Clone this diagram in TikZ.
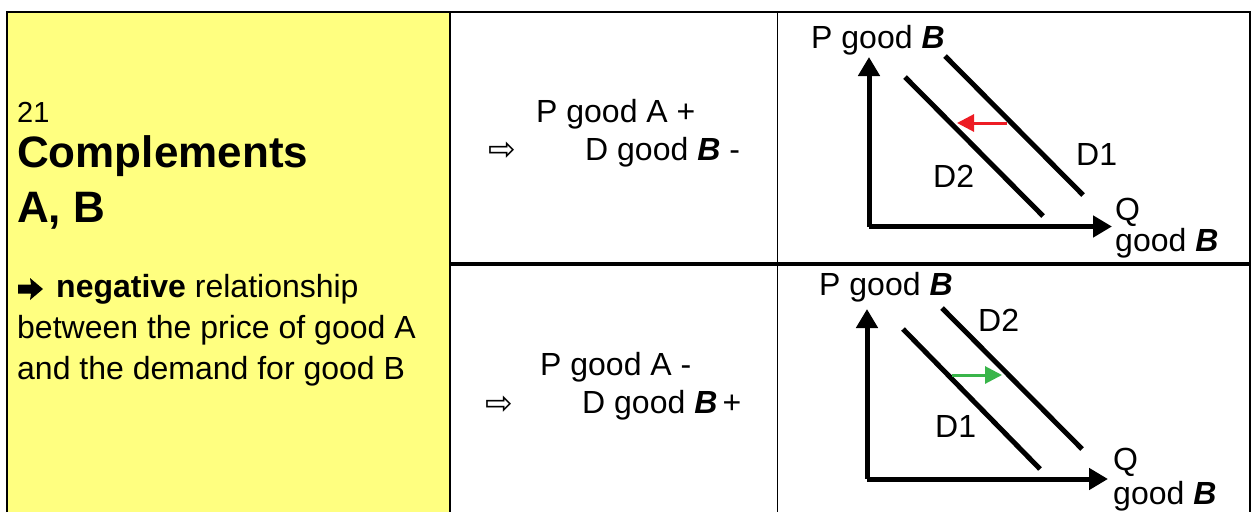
\documentclass[tikz,border=0pt]{standalone}
\usepackage{fontspec}
\setmainfont{Liberation Sans}
\newfontfamily\symfont{DejaVu Sans}
\usetikzlibrary{arrows.meta}
\definecolor{panelyellow}{HTML}{FFFF80}
\definecolor{shiftred}{HTML}{ED1C24}
\definecolor{shiftgreen}{HTML}{39B54A}
\newcommand{\bB}{\textbf{\textit{B}}}
\begin{document}
\begin{tikzpicture}[x=1pt,y=-1pt,
  txt/.style={anchor=base west,inner sep=0pt,font=\fontsize{32}{38}\selectfont},
  smalltxt/.style={anchor=base west,inner sep=0pt,font=\fontsize{29}{34}\selectfont},
  titletxt/.style={anchor=base west,inner sep=0pt,font=\fontsize{44}{50}\selectfont\bfseries},
  symtxt/.style={anchor=base west,inner sep=0pt,font=\fontsize{33}{38}\selectfont\symfont},
  axis/.style={line width=5pt,-{Triangle[length=19pt,width=21pt]}},
  demand/.style={line width=5pt},
  shiftarrow/.style={line width=3pt,-{Triangle[length=17pt,width=17pt]}},
  gridline/.style={line width=2pt}]
\useasboundingbox (0,0) rectangle (1256,512);
% panel
\fill[panelyellow] (8,13) rectangle (449,512);
% grid
\draw[gridline] (7,512) -- (7,12) -- (1250,12) -- (1250,512);
\draw[gridline] (449.5,12) -- (449.5,512);
\draw[line width=1.6pt] (777.5,12) -- (777.5,512);
\draw[line width=4pt] (449,264) -- (1251,264);
% left panel text
\node[smalltxt] (num) at (17,122) {21};
\node[titletxt] (title1) at (17,167) {Complements};
\node[titletxt] (title2) at (17,222) {A, B};
% heavy black arrow glyph
\fill (18,284.5) -- (31,284.5) -- (30,278) -- (43,289) -- (30,300) -- (31,293.5) -- (18,293.5) -- cycle;
\node[txt] (l1) at (56,297) {\textbf{negative} relationship};
\node[txt] (l2) at (17,338) {between the price of good A};
\node[txt] (l3) at (17,379) {and the demand for good B};
% middle top
\node[txt] (pa1) at (536,122) {P good A +};
\node[symtxt] (ar1) at (488,160) {⇨};
\node[txt] (db1) at (585,160) {D good \bB\ -};
% middle bottom
\node[txt] (pa2) at (540,375) {P good A -};
\node[symtxt] (ar2) at (485,414) {⇨};
\node[txt] (db2) at (582,413) {D good \bB\,+};
% graph top
\coordinate (o1) at (869,226.5);
\coordinate (y1) at (869,57);
\coordinate (x1) at (1112,226.5);
\draw[axis] (o1) -- (y1);
\draw[axis] (o1) -- (x1);
\coordinate (d2a) at (905,77);
\coordinate (d2b) at (1043,216);
\coordinate (d1a) at (945,56);
\coordinate (d1b) at (1083,195);
\draw[demand] (d2a) -- (d2b);
\draw[demand] (d1a) -- (d1b);
\coordinate (ra) at (1007,123);
\coordinate (rb) at (957,123);
\draw[shiftarrow,shiftred] (ra) -- (rb);
\node[txt] (pb1) at (811,48) {P good \bB};
\node[txt] (dl1) at (1076,165) {D1};
\node[txt] (dl2) at (933,187) {D2};
\node[txt] (q1) at (1115,220) {Q};
\node[txt] (g1) at (1115,251) {good \bB};
% graph bottom
\coordinate (o2) at (867,479);
\coordinate (y2) at (867,309);
\coordinate (x2) at (1108,479);
\draw[axis] (o2) -- (y2);
\draw[axis] (o2) -- (x2);
\coordinate (e1a) at (903,329);
\coordinate (e1b) at (1040,469);
\coordinate (e2a) at (942,308);
\coordinate (e2b) at (1082,449);
\draw[demand] (e1a) -- (e1b);
\draw[demand] (e2a) -- (e2b);
\coordinate (ga) at (952,375);
\coordinate (gb) at (1002,375);
\draw[shiftarrow,shiftgreen] (ga) -- (gb);
\node[txt] (pb2) at (819,295) {P good \bB};
\node[txt] (el2) at (978,331) {D2};
\node[txt] (el1) at (935,437) {D1};
\node[txt] (q2) at (1113,470) {Q};
\node[txt] (g2) at (1113,504) {good \bB};
\end{tikzpicture}
\end{document}
